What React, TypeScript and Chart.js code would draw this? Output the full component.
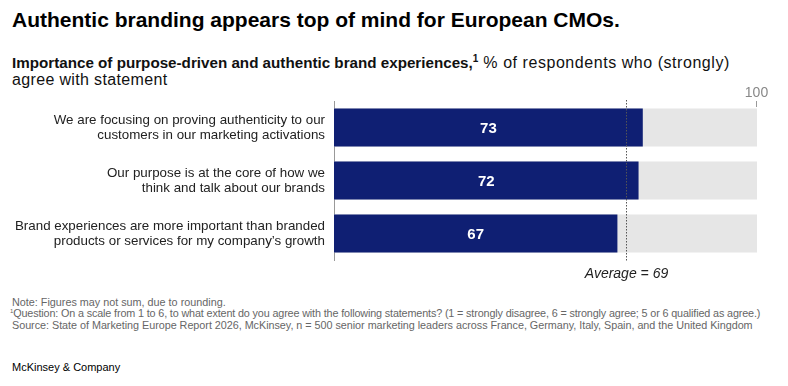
import React, { useEffect, useRef } from "react";
import { Chart, registerables } from "chart.js";

Chart.register(...registerables);

const title = "Authentic branding appears top of mind for European CMOs.";
const subtitleBold = "Importance of purpose-driven and authentic brand experiences,";
const subtitleRest1 = " % of respondents who (strongly)";
const subtitleRest2 = "agree with statement";

const categories: string[][] = [
  ["We are focusing on proving authenticity to our", "customers in our marketing activations"],
  ["Our purpose is at the core of how we", "think and talk about our brands"],
  ["Brand experiences are more important than branded", "products or services for my company\u2019s growth"],
];
const agreeShares = [73, 72, 67];
const fullShares = [100, 100, 100];
const scaleMin = 0;
const scaleMax = 100;
const topTickLabels = [100];
const averageShare = 69;
const averageLabel = "Average = 69";

const notes = [
  "Note: Figures may not sum, due to rounding.",
  "Question: On a scale from 1 to 6, to what extent do you agree with the following statements? (1 = strongly disagree, 6 = strongly agree; 5 or 6 qualified as agree.)",
  "Source: State of Marketing Europe Report 2026, McKinsey, n = 500 senior marketing leaders across France, Germany, Italy, Spain, and the United Kingdom",
];
const brand = "McKinsey & Company";

const FONT = "'Liberation Sans', Arial, Helvetica, sans-serif";
const NAVY = "#0f1f73";
const GREY = "#e6e6e6";

const valueLabelPlugin = {
  id: "valueLabels",
  afterDatasetsDraw(chart: any) {
    const ctx = chart.ctx;
    const meta = chart.getDatasetMeta(1);
    ctx.save();
    ctx.fillStyle = "#ffffff";
    ctx.font = `bold 15px ${FONT}`;
    ctx.textAlign = "center";
    ctx.textBaseline = "middle";
    meta.data.forEach((el: any, i: number) => {
      const cx = (el.x + el.base) / 2;
      ctx.fillText(String(agreeShares[i]), cx, el.y + 1);
    });
    ctx.restore();
  },
};

const averagePlugin = {
  id: "averageLine",
  afterDatasetsDraw(chart: any) {
    const { ctx, chartArea, scales } = chart;
    const x = Math.round(scales.x.getPixelForValue(averageShare)) + 0.5;
    ctx.save();
    ctx.strokeStyle = "#555555";
    ctx.lineWidth = 1;
    ctx.setLineDash([1.5, 1.5]);
    ctx.beginPath();
    ctx.moveTo(x, chartArea.top - 1);
    ctx.lineTo(x, chartArea.bottom + 2);
    ctx.stroke();
    ctx.setLineDash([]);
    ctx.fillStyle = "#222222";
    ctx.font = `italic 14px ${FONT}`;
    ctx.textAlign = "center";
    ctx.textBaseline = "alphabetic";
    ctx.fillText(averageLabel, x, chartArea.bottom + 18);
    ctx.restore();
  },
};

const topTickPlugin = {
  id: "topTick",
  afterDraw(chart: any) {
    const { ctx, chartArea, scales } = chart;
    ctx.save();
    topTickLabels.forEach((v) => {
      const x = Math.round(scales.x.getPixelForValue(v)) - 0.5;
      ctx.strokeStyle = "#999999";
      ctx.lineWidth = 1;
      ctx.beginPath();
      ctx.moveTo(x, chartArea.top);
      ctx.lineTo(x, chartArea.top + 6);
      ctx.stroke();
      ctx.fillStyle = "#888888";
      ctx.font = `14px ${FONT}`;
      ctx.textAlign = "center";
      ctx.textBaseline = "alphabetic";
      ctx.fillText(String(v), x, chartArea.top - 4);
    });
    ctx.restore();
  },
};

function BarChart() {
  const ref = useRef<HTMLCanvasElement | null>(null);
  useEffect(() => {
    if (!ref.current) return;
    const chart = new Chart(ref.current, {
      type: "bar",
      data: {
        labels: categories as any,
        datasets: [
          {
            label: "Scale",
            data: fullShares,
            backgroundColor: GREY,
            grouped: false,
            order: 2,
            categoryPercentage: 0.72,
            barPercentage: 1,
          } as any,
          {
            label: "Agree",
            data: agreeShares,
            backgroundColor: NAVY,
            grouped: false,
            order: 1,
            categoryPercentage: 0.72,
            barPercentage: 1,
          } as any,
        ],
      },
      options: {
        indexAxis: "y",
        animation: false,
        responsive: false,
        maintainAspectRatio: false,
        events: [],
        layout: { padding: { top: 23, bottom: 30, left: 0, right: 31 } },
        plugins: {
          legend: { display: false },
          tooltip: { enabled: false },
        },
        scales: {
          x: {
            type: "linear",
            min: scaleMin,
            max: scaleMax,
            display: false,
          },
          y: {
            type: "category",
            grid: { display: true, color: "transparent", drawTicks: false },
            border: { display: true, color: "#999999", width: 1 },
            ticks: {
              color: "#222222",
              padding: 9,
              font: { family: FONT, size: 13.35, lineHeight: 1.14 },
            },
            afterFit(scale: any) {
              scale.width = 334;
              scale.paddingTop = 0;
              scale.paddingBottom = 0;
            },
          },
        },
      },
      plugins: [valueLabelPlugin, averagePlugin, topTickPlugin],
    } as any);
    return () => chart.destroy();
  }, []);
  return (
    <canvas
      ref={ref}
      width={788}
      height={212}
      style={{ position: "absolute", left: 0, top: 78, width: 788, height: 212 }}
    />
  );
}

export default function App() {
  const base: React.CSSProperties = {
    position: "absolute",
    left: 12,
    fontFamily: FONT,
    whiteSpace: "nowrap",
    margin: 0,
  };
  return (
    <div
      style={{
        position: "absolute",
        left: 0,
        top: 0,
        width: 788,
        height: 386,
        background: "#ffffff",
        overflow: "hidden",
      }}
    >
      <div style={{ ...base, top: 8, fontSize: 21, lineHeight: "24px", fontWeight: 700, color: "#000" }}>
        {title}
      </div>
      <div style={{ ...base, top: 54, fontSize: 16, lineHeight: "17px", color: "#111" }}>
        <span style={{ fontWeight: 700, fontSize: 15.2 }}>{subtitleBold}</span>
        <sup style={{ fontSize: 10, fontWeight: 700, verticalAlign: "6px", lineHeight: 0 }}>1</sup>
        <span style={{ letterSpacing: 0.55 }}>{subtitleRest1}</span>
        <br />
        <span style={{ letterSpacing: 0.35 }}>{subtitleRest2}</span>
      </div>
      <BarChart />
      <div style={{ ...base, top: 296.5, fontSize: 10.8, lineHeight: "11.6px", color: "#666" }}>
        <div>{notes[0]}</div>
        <div style={{ marginLeft: -2, letterSpacing: -0.14 }}>
          <sup style={{ fontSize: 6, verticalAlign: "4px", lineHeight: 0 }}>1</sup>
          {notes[1]}
        </div>
        <div style={{ letterSpacing: -0.03 }}>{notes[2]}</div>
      </div>
      <div style={{ ...base, top: 361, fontSize: 11, lineHeight: "13px", color: "#000" }}>{brand}</div>
    </div>
  );
}
